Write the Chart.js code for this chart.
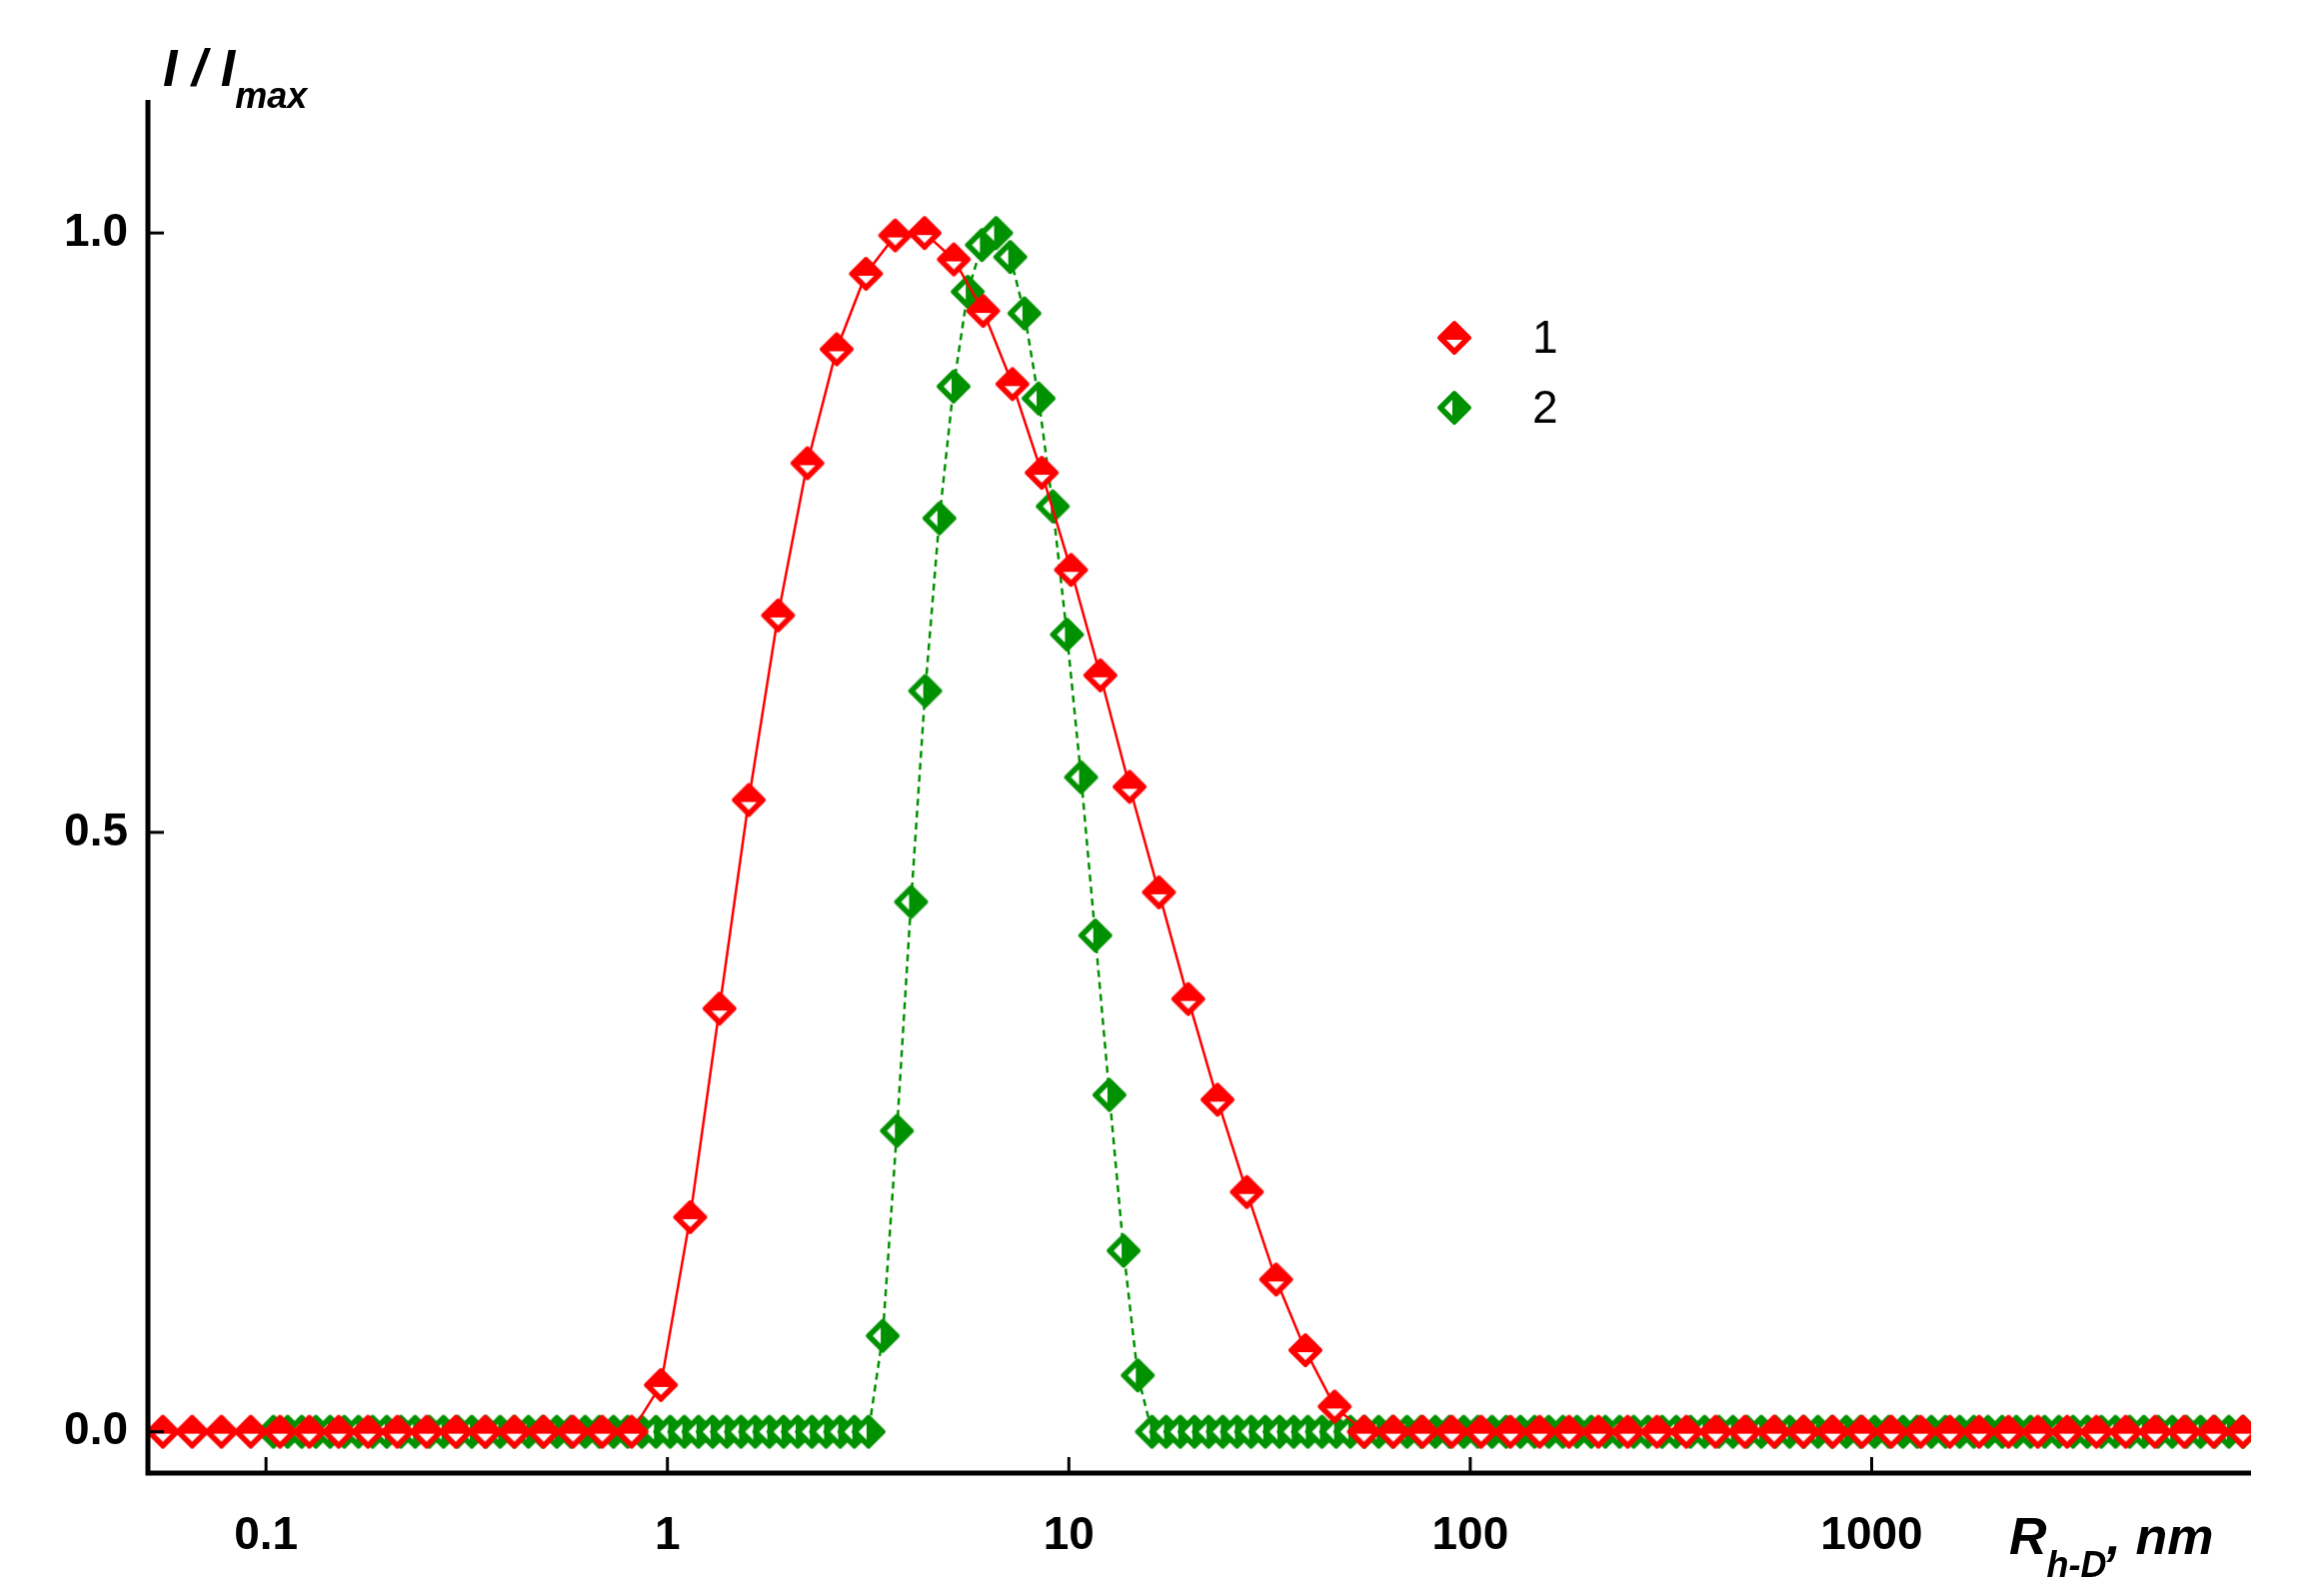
<!DOCTYPE html>
<html>
<head>
<meta charset="utf-8">
<script src="https://cdn.jsdelivr.net/npm/chart.js@4/dist/chart.umd.min.js"></script>
<style>
  html, body { margin: 0; padding: 0; background: #fff; }
  #wrap { width: 2310px; height: 1597px; }
</style>
</head>
<body>
<div id="wrap"><canvas id="dls_chart"></canvas></div>
<script>
// log-spaced size grid of the instrument (decades per step)
const redStart = -1.257, redStep = 0.07298, redCount = 72;
const greenStart = -0.9816, greenStep = 0.0353, greenCount = 140;

// sample 1, I/Imax
const red = [
  0, 0, 0, 0, 0, 0, 0, 0, 0, 0, 0, 0, 0, 0, 0, 0, 0,
  0.039, 0.179, 0.353, 0.527, 0.681, 0.808, 0.903, 0.966, 0.998, 1.0,
  0.978, 0.935, 0.874, 0.800, 0.719, 0.631, 0.538, 0.450, 0.361, 0.277,
  0.200, 0.127, 0.068, 0.021,
  0, 0, 0, 0, 0, 0, 0, 0, 0, 0, 0, 0, 0, 0, 0, 0,
  0, 0, 0, 0, 0, 0, 0, 0, 0, 0, 0, 0, 0, 0, 0
];
// sample 2
const green = [
  0, 0, 0, 0, 0, 0, 0, 0, 0, 0, 0, 0, 0, 0, 0, 0, 0, 0, 0, 0, 0, 0,
  0, 0, 0, 0, 0, 0, 0, 0, 0, 0, 0, 0, 0, 0, 0, 0, 0, 0, 0, 0, 0,
  0.080, 0.251, 0.442, 0.618, 0.762, 0.872, 0.951, 0.990, 1.0, 0.980,
  0.933, 0.862, 0.772, 0.665, 0.546, 0.414, 0.281, 0.151, 0.047,
  0, 0, 0, 0, 0, 0, 0, 0, 0, 0, 0, 0, 0, 0, 0, 0, 0, 0, 0, 0, 0, 0,
  0, 0, 0, 0, 0, 0, 0, 0, 0, 0, 0, 0, 0, 0, 0, 0, 0, 0, 0, 0, 0, 0,
  0, 0, 0, 0, 0, 0, 0, 0, 0, 0, 0, 0, 0, 0, 0, 0, 0, 0, 0, 0, 0, 0,
  0, 0, 0, 0, 0, 0, 0, 0, 0, 0, 0, 0
];
const xTicks = [0.1, 1, 10, 100, 1000];
const xTickLabels = ["0.1", "1", "10", "100", "1000"];
const yTicks = [0, 0.5, 1];
const yTickLabels = ["0.0", "0.5", "1.0"];
const seriesNames = ["1", "2"];

const RED = "rgb(255,0,0)", GREEN = "rgb(0,145,0)";

function marker(color, notch) {
  const s = 40, c = document.createElement("canvas");
  c.width = s; c.height = s;
  const g = c.getContext("2d"), h = s / 2, r = 15;
  g.fillStyle = color;
  g.beginPath();
  g.moveTo(h, h - r); g.lineTo(h + r, h); g.lineTo(h, h + r); g.lineTo(h - r, h);
  g.closePath();
  g.lineJoin = "round"; g.lineWidth = 4; g.strokeStyle = color;
  g.fill(); g.stroke();
  g.fillStyle = "#fff";
  g.beginPath();
  if (notch === "down") {
    g.moveTo(h - 8, h + 2); g.lineTo(h + 8, h + 2); g.lineTo(h, h + 10);
  } else {
    g.moveTo(h - 2, h - 8); g.lineTo(h - 2, h + 8); g.lineTo(h - 10, h);
  }
  g.closePath(); g.fill();
  return c;
}
const redMark = marker(RED, "down"), greenMark = marker(GREEN, "left");

const redPts = red.map((v, i) => ({ x: Math.pow(10, redStart + redStep * i), y: v }));
const greenPts = green.map((v, i) => ({ x: Math.pow(10, greenStart + greenStep * i), y: v }));

const decor = {
  id: "decor",
  afterDraw(chart) {
    const ctx = chart.ctx, a = chart.chartArea;
    const xs = chart.scales.x, ys = chart.scales.y;
    ctx.save();
    ctx.strokeStyle = "#000";
    ctx.lineWidth = 5;
    ctx.beginPath();
    ctx.moveTo(a.left, a.top); ctx.lineTo(a.left, a.bottom); ctx.lineTo(a.right, a.bottom);
    ctx.stroke();
    ctx.lineWidth = 3;
    ctx.fillStyle = "#000";
    ctx.font = "bold 46px 'Liberation Sans', Arial, sans-serif";
    ctx.textAlign = "center"; ctx.textBaseline = "middle";
    xTicks.forEach((t, i) => {
      const px = xs.getPixelForValue(t);
      ctx.beginPath(); ctx.moveTo(px, a.bottom); ctx.lineTo(px, a.bottom - 16); ctx.stroke();
      ctx.fillText(xTickLabels[i], px, 1537);
    });
    ctx.textAlign = "right";
    yTicks.forEach((t, i) => {
      const py = ys.getPixelForValue(t);
      ctx.beginPath(); ctx.moveTo(a.left, py); ctx.lineTo(a.left + 16, py); ctx.stroke();
      ctx.fillText(yTickLabels[i], 128, py);
    });
    // axis titles
    ctx.textAlign = "left"; ctx.textBaseline = "alphabetic";
    ctx.font = "italic bold 52px 'Liberation Sans', Arial, sans-serif";
    ctx.fillText("R", 2010, 1555);
    let w = ctx.measureText("R").width;
    ctx.font = "italic bold 36px 'Liberation Sans', Arial, sans-serif";
    ctx.fillText("h-D", 2010 + w, 1578);
    let w2 = ctx.measureText("h-D").width;
    ctx.font = "italic bold 52px 'Liberation Sans', Arial, sans-serif";
    ctx.fillText(", nm", 2010 + w + w2, 1555);
    ctx.fillText("I / I", 163, 86);
    w = ctx.measureText("I / I").width;
    ctx.font = "italic bold 36px 'Liberation Sans', Arial, sans-serif";
    ctx.fillText("max", 163 + w, 108);
    // legend
    ctx.font = "46px 'Liberation Sans', Arial, sans-serif";
    ctx.textBaseline = "middle";
    [[redMark, 338], [greenMark, 408]].forEach(([m, y], i) => {
      ctx.drawImage(m, 1455 - 20, y - 20);
      ctx.fillText(seriesNames[i], 1533, y + 2);
    });
    ctx.restore();
  }
};

new Chart(document.getElementById("dls_chart"), {
  type: "scatter",
  data: {
    datasets: [
      {
        label: seriesNames[1], data: greenPts, showLine: true,
        borderColor: GREEN, borderWidth: 2.5, borderDash: [7, 5],
        pointStyle: greenMark, pointRadius: 20, order: 2
      },
      {
        label: seriesNames[0], data: redPts, showLine: true,
        borderColor: RED, borderWidth: 2.5,
        pointStyle: redMark, pointRadius: 20, order: 1
      }
    ]
  },
  options: {
    responsive: true, maintainAspectRatio: false, animation: false,
    devicePixelRatio: 1,
    layout: { padding: { left: 148, right: 58, top: 100, bottom: 123 } },
    scales: {
      x: { type: "logarithmic", min: 0.0508, max: 8810, display: false },
      y: { min: -0.0345, max: 1.111, display: false }
    },
    plugins: { legend: { display: false }, tooltip: { enabled: false } }
  },
  plugins: [decor]
});
</script>
</body>
</html>
